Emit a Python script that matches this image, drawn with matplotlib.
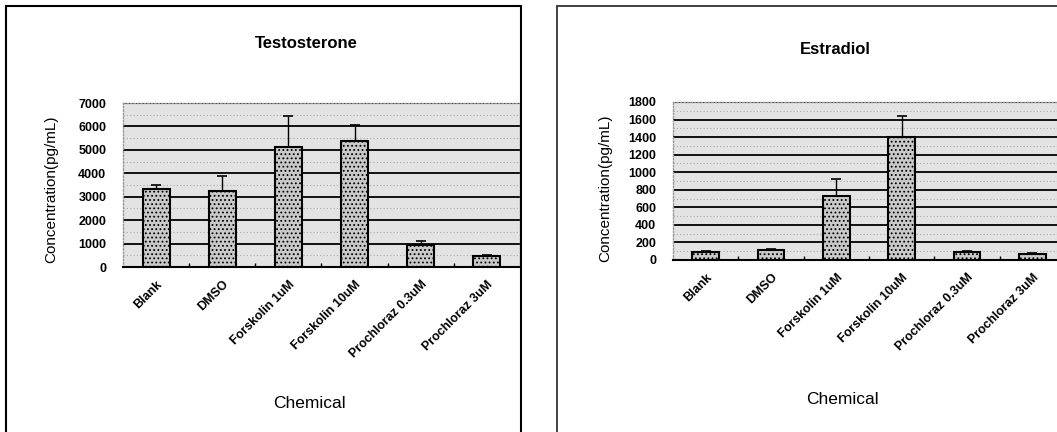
import matplotlib.pyplot as plt
from matplotlib.patches import Rectangle
import numpy as np

chemicals = ["Blank", "DMSO", "Forskolin 1uM", "Forskolin 10uM",
             "Prochloraz 0.3uM", "Prochloraz 3uM"]

testo_mean = [3330, 3250, 5120, 5370, 940, 450]
testo_err = [190, 640, 1320, 670, 160, 50]
testo_ticks = [0, 1000, 2000, 3000, 4000, 5000, 6000, 7000]

estra_mean = [90, 112, 730, 1400, 88, 65]
estra_err = [14, 12, 190, 240, 15, 12]
estra_ticks = [0, 200, 400, 600, 800, 1000, 1200, 1400, 1600, 1800]

W, H = 1057, 432
plt.rcParams['font.family'] = ['Liberation Sans', 'DejaVu Sans']
plt.rcParams['hatch.color'] = '#9a9a9a'
plt.rcParams['hatch.linewidth'] = 0.8
fig = plt.figure(figsize=(W / 100, H / 100), dpi=100)


def px(x0, y0, x1, y1):
    # pixel box (top-left origin) -> figure fraction rect
    return [x0 / W, 1 - y1 / H, (x1 - x0) / W, (y1 - y0) / H]


def panel(rect, means, errs, ticks, title, title_xy, ylab_xy, xlab_xy):
    ax = fig.add_axes(rect)
    x = np.arange(len(chemicals))
    ax.set_facecolor('#e3e3e3')
    ax.bar(x, means, 0.41, color='#c9c9c9', edgecolor='black', linewidth=1.5,
           hatch='....', zorder=3)
    ax.errorbar(x, means, yerr=[np.zeros(len(errs)), errs], fmt='none',
                ecolor='black', elinewidth=1.0, capsize=3.5, capthick=1.2,
                zorder=4)
    ax.set_xlim(-0.5, len(chemicals) - 0.5)
    ax.set_ylim(ticks[0], ticks[-1])
    ax.set_yticks(ticks)
    ax.set_yticklabels([str(t) for t in ticks], fontsize=9, fontweight='bold')
    ax.tick_params(axis='y', length=0, pad=12)
    ax.set_xticks(x)
    ax.set_xticklabels(chemicals, rotation=45, ha='right',
                       rotation_mode='anchor', fontsize=9, fontweight='bold')
    ax.tick_params(axis='x', length=0, pad=8)
    ax.set_xticks(x[:-1] + 0.5, minor=True)
    ax.tick_params(axis='x', which='minor', direction='in', length=3,
                   width=1, color='black')
    # gridlines
    ax.yaxis.grid(True, color='black', linewidth=1.3, zorder=1)
    ax.set_yticks(np.array(ticks[:-1]) + (ticks[1] - ticks[0]) / 2, minor=True)
    ax.yaxis.grid(True, which='minor', color='#aaaaaa', linewidth=0.8,
                  linestyle=(0, (1, 2)), zorder=1)
    ax.xaxis.grid(False)
    ax.tick_params(axis='y', which='minor', length=0)
    ax.set_axisbelow(True)
    for s in ['left', 'top', 'right']:
        ax.spines[s].set_color('#999999')
        ax.spines[s].set_linestyle((0, (1, 1.5)))
        ax.spines[s].set_linewidth(1)
    ax.spines['bottom'].set_linewidth(1.5)
    ax.spines['bottom'].set_color('black')

    fig.text(title_xy[0] / W, 1 - title_xy[1] / H, title, fontsize=12,
             fontweight='bold', ha='center', va='center')
    fig.text(ylab_xy[0] / W, 1 - ylab_xy[1] / H, "Concentration(pg/mL)",
             fontsize=11, rotation=90, ha='center', va='center')
    fig.text(xlab_xy[0] / W, 1 - xlab_xy[1] / H, "Chemical", fontsize=12.5,
             ha='center', va='center')
    return ax


panel(px(123, 103, 520, 267), testo_mean, testo_err, testo_ticks,
      "Testosterone", (306, 44), (51, 189), (309, 404))
panel(px(673, 102, 1065, 260), estra_mean, estra_err, estra_ticks,
      "Estradiol", (835, 50), (605, 188), (842, 399))

# panel frames
fig.patches.append(Rectangle((6 / W, -0.05), (521 - 6) / W, 1 - 6 / H + 0.05,
                             transform=fig.transFigure, fill=False,
                             edgecolor='black', linewidth=1.5))
fig.patches.append(Rectangle((557 / W, -0.05), 0.6, 1 - 6 / H + 0.05,
                             transform=fig.transFigure, fill=False,
                             edgecolor='#333333', linewidth=1.3))

fig.savefig("out.png", dpi=100)
